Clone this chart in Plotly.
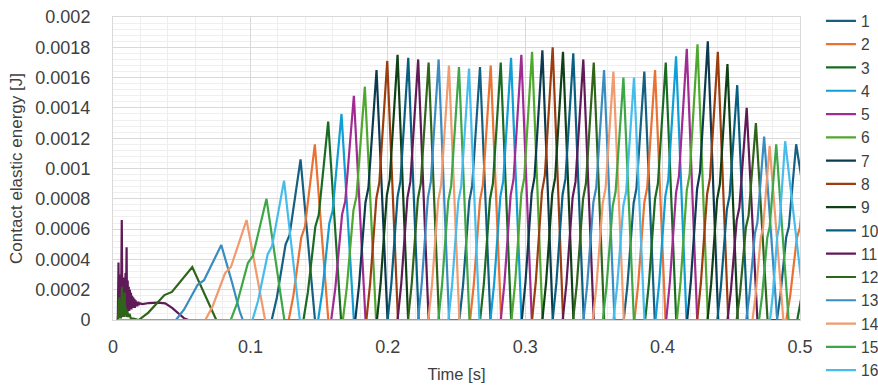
import plotly.graph_objects as go

# Series names and line colours (Office 2023 chart palette)
series_names = [str(i) for i in range(1, 17)]
series_colors = [
    "#156082", "#E97132", "#196B24", "#0F9ED5", "#A02B93", "#4EA72E",
    "#0D3A4E", "#9B3D0F", "#0F4016", "#095F80", "#601A58", "#2F641B",
    "#3A8CC0", "#F09A6E", "#3DA646", "#45BCEC",
]

# Contact pulses: which series, time of peak [s], peak energy [J],
# rise duration [s], fall duration [s]
pulse_series = [12, 13, 14, 15, 16,
                1, 2, 3, 4, 5, 6, 7, 8, 9, 10, 11, 12, 13, 14, 15, 16,
                1, 2, 3, 4, 5, 6, 7, 8, 9, 10, 11, 12, 13, 14, 15, 16,
                1, 2, 3, 4, 5, 6, 7, 8, 9, 10, 11, 12, 13, 14, 15, 16,
                1, 2, 3]
pulse_time = [0.0577, 0.0788, 0.0972, 0.1117, 0.1245,
              0.1365, 0.1469, 0.1566, 0.1663, 0.1753, 0.1833, 0.1918, 0.1996,
              0.2071, 0.2149, 0.2221, 0.2297, 0.2370, 0.2445, 0.2518, 0.2591,
              0.2671, 0.2749, 0.2822, 0.2897, 0.2972, 0.3050, 0.3125, 0.3200,
              0.3275, 0.3350, 0.3423, 0.3499, 0.3574, 0.3642, 0.3715, 0.3792,
              0.3867, 0.3945, 0.4023, 0.4098, 0.4176, 0.4254, 0.4329, 0.4402,
              0.4472, 0.4543, 0.4612, 0.4679, 0.4739, 0.4779, 0.4827, 0.4892,
              0.4972, 0.5060, 0.5160]
pulse_peak = [0.00035, 0.000495, 0.00066, 0.00080, 0.00092,
              0.00106, 0.00116, 0.00131, 0.00136, 0.00148, 0.00154, 0.00165, 0.00171,
              0.00175, 0.00173, 0.00172, 0.00170, 0.00172, 0.00168, 0.00167, 0.00166,
              0.00167, 0.00168, 0.00170, 0.00173, 0.00175, 0.00177, 0.00178, 0.00180,
              0.00177, 0.00176, 0.00172, 0.00170, 0.00165, 0.00164, 0.00160, 0.00160,
              0.00164, 0.00165, 0.00170, 0.00174, 0.00179, 0.00182, 0.00184, 0.00177,
              0.00169, 0.00155, 0.00140, 0.00130, 0.00121, 0.00115, 0.00116, 0.00118,
              0.00116, 0.00115, 0.00115]
pulse_rise = [0.039, 0.033, 0.030, 0.026, 0.023,
              0.021, 0.019, 0.018, 0.017, 0.0165, 0.016, 0.0155, 0.0152,
              0.015, 0.015, 0.015, 0.015, 0.015, 0.015, 0.015, 0.015,
              0.015, 0.015, 0.015, 0.015, 0.015, 0.015, 0.015, 0.015,
              0.015, 0.015, 0.015, 0.015, 0.015, 0.015, 0.015, 0.015,
              0.015, 0.015, 0.015, 0.015, 0.015, 0.015, 0.015, 0.015,
              0.0145, 0.0145, 0.014, 0.014, 0.013, 0.0125, 0.0125, 0.011,
              0.014, 0.016, 0.018]
pulse_fall = [0.0175, 0.0157, 0.0135, 0.013, 0.0115,
              0.0105, 0.0098, 0.0094, 0.009, 0.0085, 0.0082, 0.008, 0.0078,
              0.0077, 0.0076, 0.0076, 0.0076, 0.0076, 0.0076, 0.0076, 0.0076,
              0.0076, 0.0076, 0.0076, 0.0076, 0.0076, 0.0076, 0.0076, 0.0076,
              0.0076, 0.0076, 0.0076, 0.0076, 0.0076, 0.0076, 0.0076, 0.0076,
              0.0076, 0.0076, 0.0076, 0.0076, 0.0076, 0.0076, 0.0076, 0.0076,
              0.0075, 0.0075, 0.0078, 0.0085, 0.0095, 0.010, 0.009, 0.015,
              0.020, 0.010, 0.010]

# Early impact transient of series 11 followed by its first slow hump
early11_t = [0.0035, 0.0040, 0.0043, 0.0047, 0.0050, 0.0055, 0.0058, 0.0064,
             0.0068, 0.0073, 0.0077, 0.0082, 0.0086, 0.0091, 0.0094, 0.0099,
             0.0102, 0.0107, 0.0110, 0.0115, 0.0118, 0.0123, 0.0126, 0.0131,
             0.0134, 0.0139, 0.0142, 0.0147, 0.0150, 0.0156, 0.0159, 0.0165,
             0.0168, 0.0174, 0.0177, 0.0184, 0.0188, 0.0195, 0.0215, 0.0260,
             0.0326, 0.0380, 0.0430, 0.0480, 0.0520, 0.0550]
early11_v = [0.0, 0.00038, 0.00002, 0.00025, 0.00003, 0.00030, 0.00002, 0.00066,
             0.00005, 0.00022, 0.00004, 0.00028, 0.00005, 0.00031, 0.00006, 0.00048,
             0.00006, 0.00026, 0.00006, 0.00022, 0.00006, 0.00020, 0.00007, 0.00018,
             0.00007, 0.00016, 0.00008, 0.00015, 0.00008, 0.00014, 0.00008, 0.00013,
             0.00009, 0.00012, 0.00009, 0.00012, 0.00010, 0.00011, 0.000105, 0.000112,
             0.000115, 0.00011, 0.00008, 0.00004, 0.00001, 0.0]

# Early impact transient of series 12
early12_t = [0.0035, 0.0045, 0.0048, 0.0055, 0.0058, 0.0066, 0.0069, 0.0076,
             0.0079, 0.0085, 0.0088, 0.0095, 0.0098, 0.0105, 0.0110, 0.0120,
             0.0130, 0.0150]
early12_v = [0.0, 0.00015, 0.00001, 0.00010, 0.00001, 0.00022, 0.00002, 0.00012,
             0.00002, 0.00018, 0.00003, 0.00008, 0.00002, 0.00006, 0.00002, 0.00004,
             0.00001, 0.00001]

# Pulse outline as fractions of rise/fall duration and of peak height
rise_frac = [-1.0, -0.82, -0.52, -0.38, 0.0]
rise_level = [0.0, 0.14, 0.47, 0.53, 1.0]
fall_frac = [0.5, 0.85, 1.0]
fall_level = [0.5, 0.12, 0.0]

T_START = 0.0035
T_END = 0.5

fig = go.Figure()
for s in range(1, 17):
    if s == 11:
        xs, ys = list(early11_t), list(early11_v)
    elif s == 12:
        xs, ys = list(early12_t), list(early12_v)
    else:
        xs, ys = [T_START], [0.0]
    for k, ser in enumerate(pulse_series):
        if ser != s:
            continue
        tp, h, r, f = pulse_time[k], pulse_peak[k], pulse_rise[k], pulse_fall[k]
        for fr, lv in zip(rise_frac, rise_level):
            xs.append(tp + fr * r)
            ys.append(lv * h)
        for fr, lv in zip(fall_frac, fall_level):
            xs.append(tp + fr * f)
            ys.append(lv * h)
    if xs[-1] < T_END:
        xs.append(T_END)
        ys.append(0.0)
    fig.add_trace(go.Scatter(
        x=xs, y=ys, mode="lines", name=series_names[s - 1],
        line=dict(color=series_colors[s - 1], width=2.2),
    ))

sans = "Liberation Sans, Arial, sans-serif"
tick_font = dict(family=sans, size=18, color="#404040")
title_font = dict(family=sans, size=17, color="#404040")

fig.update_layout(
    width=878, height=392,
    margin=dict(l=113, r=78, t=17, b=72, autoexpand=False),
    paper_bgcolor="white", plot_bgcolor="white",
    showlegend=True,
    legend=dict(
        x=1.0305, xanchor="left", y=1.042, yanchor="top",
        font=dict(family=sans, size=15.6, color="#404040"),
        tracegroupgap=0, bgcolor="rgba(0,0,0,0)", maxheight=392,
    ),
    xaxis=dict(
        range=[0, 0.5], dtick=0.1, tick0=0,
        showgrid=True, gridcolor="#d9d9d9", gridwidth=1,
        minor=dict(dtick=0.02, showgrid=True, gridcolor="#eeeeee", gridwidth=1),
        showline=True, linecolor="#d9d9d9", linewidth=1, mirror=True,
        zeroline=False, ticks="", ticklabelstandoff=10,
        tickfont=tick_font, tickformat="~g",
        title=dict(text="Time [s]", font=dict(family=sans, size=16.5, color="#404040"),
                   standoff=12),
    ),
    yaxis=dict(
        range=[0, 0.002], dtick=0.0002, tick0=0,
        showgrid=True, gridcolor="#d9d9d9", gridwidth=1,
        minor=dict(dtick=0.00004, showgrid=True, gridcolor="#efefef", gridwidth=1),
        showline=True, linecolor="#d9d9d9", linewidth=1, mirror=True,
        zeroline=False, ticks="", ticklabelstandoff=18,
        tickfont=tick_font, tickformat="~g", exponentformat="none",
        title=dict(text="Contact elastic energy [J]", font=title_font, standoff=8),
    ),
)

fig.write_html("out.html")
